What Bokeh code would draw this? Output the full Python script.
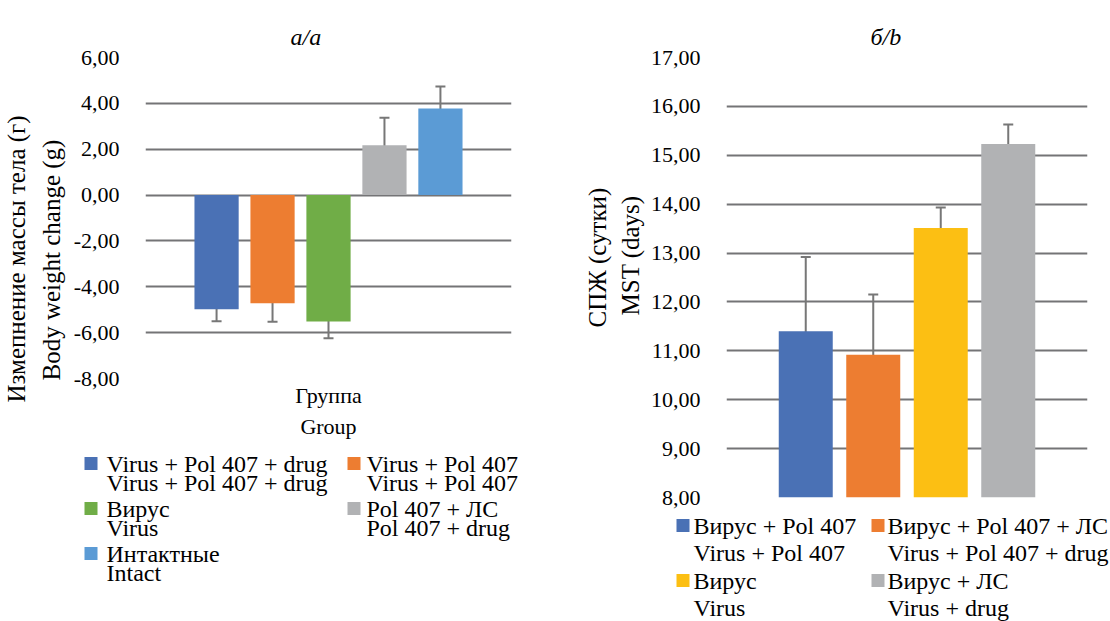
from bokeh.plotting import figure
from bokeh.models import (ColumnDataSource, FactorRange, Whisker, FixedTicker, TeeHead,
                          Title, Range1d)
from bokeh.core.properties import value
from bokeh.layouts import row, column
from bokeh.embed import file_html
from bokeh.resources import INLINE

# ---------------- data ----------------
left_title = "а/a"
left_groups = [
    "Virus + Pol 407 + drug\nVirus + Pol 407 + drug",
    "Virus + Pol 407\nVirus + Pol 407",
    "Вирус\nVirus",
    "Pol 407 + ЛС\nPol 407 + drug",
    "Интактные\nIntact",
]
left_values = [-4.98, -4.72, -5.51, 2.17, 3.78]
left_errors = [0.52, 0.80, 0.73, 1.20, 0.96]
left_ticks = [-8, -6, -4, -2, 0, 2, 4, 6]
left_ylabel = ["Body weight change (g)", "Измепнение массы тела (г)"]
left_xlabel = ["Группа", "Group"]

right_title = "б/b"
right_groups = [
    "Вирус + Pol 407\nVirus + Pol 407",
    "Вирус + Pol 407 + ЛС\nVirus + Pol 407 + drug",
    "Вирус\nVirus",
    "Вирус + ЛС\nVirus + drug",
]
right_values = [11.40, 10.92, 13.51, 15.23]
right_errors = [1.52, 1.23, 0.42, 0.40]
right_ticks = [8, 9, 10, 11, 12, 13, 14, 15, 16, 17]
right_ylabel = ["MST (days)", "СПЖ (сутки)"]

left_colors = ["#4A71B5", "#ED7D31", "#70AD47", "#B1B2B4", "#5B9BD5"]
right_colors = ["#4A71B5", "#ED7D31", "#FCBF13", "#B1B2B4"]

FONT = "Liberation Serif"
GRID = "#747476"
ERR = "#777777"


def fmt(v):
    return f"{v:.2f}".replace(".", ",")


def make_chart(title, groups, values, errors, ticks, colors, ylabel, xlabel,
               width, height, left, top, fw, fh, pad, bar_w, ymin, ymax, base,
               title_off, ylab_offs, ylab_standoffs):
    ids = [f"g{i}" for i in range(len(groups))]
    src = ColumnDataSource(dict(
        x=ids, top=values, color=colors,
        upper=[v + e for v, e in zip(values, errors)],
        lower=[v - e for v, e in zip(values, errors)],
    ))
    xr = FactorRange(factors=ids, range_padding=pad, range_padding_units="absolute")
    p = figure(x_range=xr, y_range=(ymin, ymax), width=width, height=height,
               output_backend="svg", toolbar_location=None,
               min_border_left=left, min_border_top=top,
               min_border_right=width - left - fw, min_border_bottom=height - top - fh)
    p.frame_width = fw
    p.frame_height = fh
    p.frame_align = False
    p.outline_line_color = None
    p.background_fill_color = "white"
    p.border_fill_color = "white"

    p.title = Title(text=title, align="left", offset=title_off, vertical_align="top",
                    text_font=FONT, text_font_style="italic",
                    text_font_size="24px", text_color="black", standoff=12)

    p.vbar(x="x", top="top", bottom=base, width=bar_w, color="color",
           line_color=None, source=src)
    w = Whisker(base="x", upper="upper", lower="lower", source=src,
                line_color=ERR, line_width=2,
                upper_head=TeeHead(size=10, line_color=ERR, line_width=2),
                lower_head=TeeHead(size=10, line_color=ERR, line_width=2))
    p.add_layout(w)

    p.yaxis.ticker = FixedTicker(ticks=ticks)
    p.yaxis.major_label_overrides = {t: fmt(t) for t in ticks}
    p.yaxis.major_label_text_font = FONT
    p.yaxis.major_label_text_font_size = "22px"
    p.yaxis.major_label_text_color = "black"
    p.yaxis.major_label_standoff = 20
    p.yaxis.axis_line_color = None
    p.yaxis.major_tick_line_color = None
    p.yaxis.minor_tick_line_color = None

    for t, off, so in zip(ylabel, ylab_offs, ylab_standoffs):
        p.add_layout(Title(text=t, align="left", offset=off, text_font=FONT,
                           text_font_size="25px", text_font_style="normal",
                           text_color="black", standoff=so), "left")

    p.xaxis.visible = False
    if xlabel:
        for t in xlabel:
            p.add_layout(Title(text=t, align="center", text_font=FONT,
                               text_font_size="22px", text_font_style="normal",
                               text_color="black", standoff=4), "below")

    p.xgrid.grid_line_color = None
    p.ygrid.grid_line_color = GRID
    p.ygrid.grid_line_width = 2
    return p


def make_legend(groups, colors, width, height, sq_x, tx_x, y0, pitch, dy2):
    n = len(groups)
    cols = [i % 2 for i in range(n)]
    rows = [i // 2 for i in range(n)]
    ys = [y0 + r * pitch for r in rows]
    src = ColumnDataSource(dict(
        sx=[sq_x[c] for c in cols], tx=[tx_x[c] for c in cols],
        y=ys, y2=[y + dy2 for y in ys],
        l1=[g.split("\n")[0] for g in groups],
        l2=[g.split("\n")[1] for g in groups],
        color=colors,
    ))
    lf = figure(width=width, height=height, x_range=Range1d(0, width),
                y_range=Range1d(height, 0), output_backend="svg",
                toolbar_location=None, x_axis_type=None, y_axis_type=None,
                min_border=0)
    lf.frame_align = False
    lf.outline_line_color = None
    lf.grid.visible = False
    lf.rect(x="sx", y="y", width=13, height=13, color="color", line_color=None,
            source=src)
    for col in ["l1", "l2"]:
        lf.text(x="tx", y="y" if col == "l1" else "y2", text=col, source=src,
                text_font=value(FONT), text_font_size="24px",
                text_baseline="middle", text_align="left", text_color="black")
    return lf


pl = make_chart(left_title, left_groups, left_values, left_errors, left_ticks,
                left_colors, left_ylabel, left_xlabel,
                width=555, height=440, left=141, top=57, fw=366, fh=321,
                pad=0.77, bar_w=0.79, ymin=-8, ymax=6, base=0, title_off=145,
                ylab_offs=[-2, -24], ylab_standoffs=[12, 0])
ll = make_legend(left_groups, left_colors, 555, 181,
                 sq_x=[90.5, 353.5], tx_x=[106, 366], y0=23, pitch=45, dy2=19)

pr = make_chart(right_title, right_groups, right_values, right_errors, right_ticks,
                right_colors, right_ylabel, None,
                width=555, height=512, left=167, top=57, fw=361, fh=440,
                pad=0.674, bar_w=0.8, ymin=8, ymax=17, base=8, title_off=144,
                ylab_offs=[182, 170], ylab_standoffs=[8, 0])
lr = make_legend(right_groups, right_colors, 555, 109,
                 sq_x=[123.5, 318.5], tx_x=[134, 328], y0=13, pitch=55, dy2=27)

layout = row(column(pl, ll, spacing=0), column(pr, lr, spacing=0), spacing=0)
open("out.html", "w").write(file_html(layout, INLINE))
